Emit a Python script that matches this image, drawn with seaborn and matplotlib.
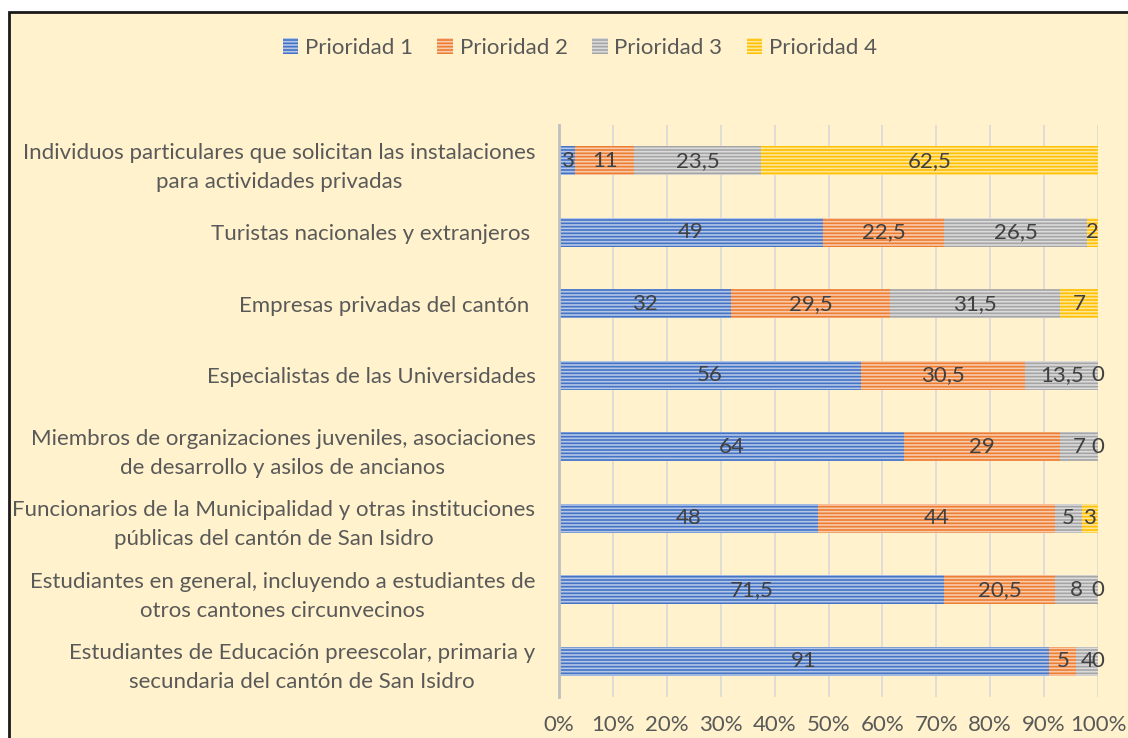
import numpy as np
import pandas as pd
import seaborn as sns
import matplotlib.pyplot as plt
from matplotlib.patches import Patch, Rectangle

# datos (de arriba hacia abajo)
categorias = [
    "Individuos particulares que solicitan las instalaciones\npara actividades privadas",
    "Turistas nacionales y extranjeros ",
    "Empresas privadas del cantón ",
    "Especialistas de las Universidades",
    "Miembros de organizaciones juveniles, asociaciones\nde desarrollo y asilos de ancianos",
    "Funcionarios de la Municipalidad y otras instituciones\npúblicas del cantón de San Isidro",
    "Estudiantes en general, incluyendo a estudiantes de\notros cantones circunvecinos",
    "Estudiantes de Educación preescolar, primaria y\nsecundaria del cantón de San Isidro",
]
prioridad_1 = [3, 49, 32, 56, 64, 48, 71.5, 91]
prioridad_2 = [11, 22.5, 29.5, 30.5, 29, 44, 20.5, 5]
prioridad_3 = [23.5, 26.5, 31.5, 13.5, 7, 5, 8, 4]
prioridad_4 = [62.5, 2, 7, 0, 0, 3, 0, 0]
series = ["Prioridad 1", "Prioridad 2", "Prioridad 3", "Prioridad 4"]
xticks = list(range(0, 101, 10))

colores = ["#4472C4", "#ED7D31", "#A5A5A5", "#FFC000"]
rayas = ["#B4C7E7", "#F8CBAD", "#DBDBDB", "#FFE699"]

df = pd.DataFrame({"cat": categorias, series[0]: prioridad_1, series[1]: prioridad_2,
                   series[2]: prioridad_3, series[3]: prioridad_4})
acum = df[series].cumsum(axis=1)

sns.set_style("white")
plt.rcParams["font.family"] = ["Lato", "DejaVu Sans"]
plt.rcParams["hatch.linewidth"] = 1.2

fig = plt.figure(figsize=(11.28, 7.38), dpi=100, facecolor="white")
fig.add_artist(Rectangle((9 / 1128, -0.05), 1.1, 0.05 + 726 / 738, transform=fig.transFigure,
                         facecolor="#FFF2CC", edgecolor="#1a1a1a", lw=2, zorder=-1))
ax = fig.add_axes([559 / 1128, 1 - 697 / 738, (1098 - 559) / 1128, (697 - 125) / 738])
ax.set_facecolor("none")

# barras apiladas: se dibuja del total acumulado hacia el primero
for i in range(3, -1, -1):
    sns.barplot(x=acum[series[i]], y=df["cat"], order=categorias, orient="h",
                color=colores[i], saturation=1, width=0.4, errorbar=None,
                edgecolor=rayas[i], linewidth=0, hatch="-----", ax=ax)

# etiquetas de datos
for i, s in enumerate(series):
    ini = acum[s] - df[s]
    for j, v in enumerate(df[s]):
        ax.text(ini[j] + v / 2, j, f"{v:g}".replace(".", ","), ha="center", va="center",
                fontsize=16, color="#404040")

ax.set_xlim(0, 100)
ax.set_xticks(xticks)
ax.set_xticklabels([f"{t}%" for t in xticks])
ax.set_xlabel("")
ax.set_ylabel("")
ax.grid(axis="x", color="#D9D9D9", lw=1.2)
ax.set_axisbelow(True)
for s in ["top", "right", "bottom"]:
    ax.spines[s].set_visible(False)
ax.spines["left"].set_color("#BFBFBF")
ax.spines["left"].set_linewidth(2)
ax.tick_params(axis="both", length=0, labelsize=16, labelcolor="#595959")
ax.tick_params(axis="x", pad=13)
ax.tick_params(axis="y", pad=17)
for lbl in ax.get_yticklabels():
    lbl.set_multialignment("center")
    lbl.set_linespacing(1.55)

handles = [Patch(facecolor=colores[i], edgecolor=rayas[i], hatch="-----", lw=0) for i in range(4)]
fig.legend(handles, series, loc="center", bbox_to_anchor=(0.514, 0.935), ncol=4, frameon=False,
           fontsize=16, labelcolor="#595959", handlelength=0.7, handleheight=0.7,
           handletextpad=0.3, columnspacing=1.1)

fig.savefig("out.png", dpi=100)
